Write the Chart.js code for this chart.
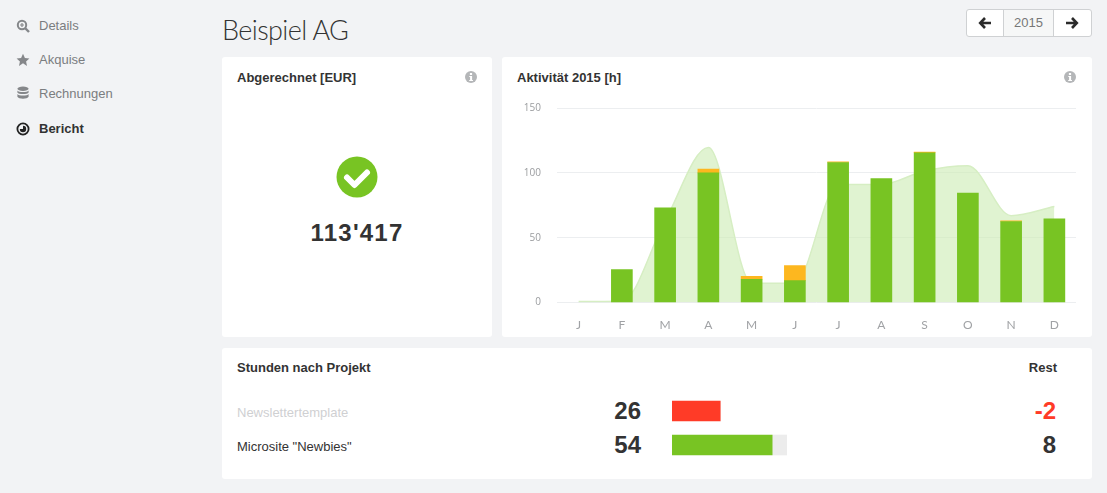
<!DOCTYPE html>
<html lang="de">
<head>
<meta charset="utf-8">
<title>Beispiel AG</title>
<script src="https://cdn.jsdelivr.net/npm/chart.js@4/dist/chart.umd.min.js"></script>
<style>
  * { box-sizing: border-box; }
  html, body { margin: 0; padding: 0; }
  body { width: 1107px; height: 493px; overflow: hidden; position: relative; background: #f2f3f5; font-family: "Liberation Sans", Arial, sans-serif; color: #333; }
  .abs { position: absolute; white-space: nowrap; }
  .nav { left: 39px; font-size: 13px; line-height: 16px; color: #7b7d80; }
  .nav.active { color: #333; font-weight: bold; }
  .nav_icon { position: absolute; left: 16px; width: 14px; height: 14px; }
  .card { position: absolute; background: #fff; border-radius: 3px; }
  .title { font-size: 13px; line-height: 16px; font-weight: bold; color: #333; }
  h1 { position: absolute; margin: 0; left: 222px; top: 13px; font-family: Lato, sans-serif; font-weight: 300; font-size: 27px; line-height: 34px; color: #333; white-space: nowrap; letter-spacing: -0.6px; }
  .year_nav { position: absolute; left: 966px; top: 9px; width: 126px; height: 28px; background: #fff; border: 1px solid #cfd1d3; border-radius: 3px; }
  .year_nav .mid { position: absolute; left: 36px; top: 0; width: 51px; height: 26px; background: #f6f7f7; border-left: 1px solid #cfd1d3; border-right: 1px solid #cfd1d3; text-align: center; font-size: 13px; line-height: 26px; color: #777; }
  .year_nav svg { position: absolute; top: 6px; width: 14px; height: 14px; }
  .num { font-size: 24px; line-height: 28px; font-weight: bold; color: #333; text-align: right; }
  canvas { position: absolute; }
</style>
</head>
<body>
<div class="abs nav" style="top:18px">Details</div>
<div class="abs nav" style="top:52px">Akquise</div>
<div class="abs nav" style="top:86px">Rechnungen</div>
<div class="abs nav active" style="top:121px">Bericht</div>

<svg class="nav_icon" style="top:19px" viewBox="0 0 14 14"><circle cx="6" cy="6" r="4.2" fill="none" stroke="#85878a" stroke-width="2"/><path d="M9 9l4 4" stroke="#85878a" stroke-width="2.4"/><path d="M4 6h4M6 4v4" stroke="#85878a" stroke-width="1.2"/></svg>
<svg class="nav_icon" style="top:53px" viewBox="0 0 14 14"><path d="M7 .8l1.9 4.1 4.5.5-3.3 3.1.9 4.5L7 10.2l-4 2.8.9-4.5L.6 5.4l4.5-.5z" fill="#85878a"/></svg>
<svg class="nav_icon" style="top:86px" viewBox="0 0 14 14"><ellipse cx="7" cy="2.8" rx="5.6" ry="2.2" fill="#85878a"/><path d="M1.4 4.6c1 2 10.200 2 11.200 0v2c-1 2-10.200 2-11.200 0zM1.400 8c1 2 10.200 2 11.200 0v2.800c-1 2.600-10.200 2.600-11.200 0z" fill="#85878a"/></svg>
<svg class="nav_icon" style="top:122px" viewBox="0 0 14 14"><circle cx="7" cy="7" r="5.600" fill="none" stroke="#222" stroke-width="1.800"/><path d="M7 3.800A3.200 3.200 0 1 1 3.800 7H7z" fill="#222"/></svg>

<h1>Beispiel AG</h1>
<div class="year_nav">
  <svg style="left:11px" viewBox="0 0 14 14"><path d="M7 2L2.200 7 7 12M2.500 7H13" fill="none" stroke="#2b2b2b" stroke-width="2.600"/></svg>
  <div class="mid">2015</div>
  <svg style="left:98px" viewBox="0 0 14 14"><path d="M7 2l4.800 5L7 12M11.500 7H1" fill="none" stroke="#2b2b2b" stroke-width="2.600"/></svg>
</div>

<div class="card" style="left:222px;top:57px;width:270px;height:280px"></div>
<div class="card" style="left:502px;top:57px;width:590px;height:280px"></div>
<div class="card" style="left:222px;top:348px;width:870px;height:131px"></div>

<div class="abs title" style="left:237px;top:70px">Abgerechnet [EUR]</div>
<svg class="abs" style="left:465px;top:71px" width="12" height="12" viewBox="0 0 12 12"><circle cx="6" cy="6" r="6" fill="#b4b6b8"/><rect x="4.900" y="2" width="2.200" height="2" fill="#fff"/><path d="M4.300 5h2.800v4h.900v1H4.200V9h.900V6h-.800z" fill="#fff"/></svg>
<svg class="abs" style="left:336px;top:156px" width="42" height="42" viewBox="0 0 42 42"><circle cx="21" cy="21" r="20.500" fill="#78c423"/><path d="M11 21.500l7.500 7.500L31 16.500" fill="none" stroke="#fff" stroke-width="6" stroke-linecap="round" stroke-linejoin="round"/></svg>
<div class="abs num" style="left:222px;width:270px;top:219px;text-align:center;letter-spacing:1.200px;">113'417</div>

<div class="abs title" style="left:517px;top:70px">Aktivität 2015 [h]</div>
<svg class="abs" style="left:1064px;top:71px" width="12" height="12" viewBox="0 0 12 12"><circle cx="6" cy="6" r="6" fill="#b4b6b8"/><rect x="4.900" y="2" width="2.200" height="2" fill="#fff"/><path d="M4.300 5h2.800v4h.900v1H4.200V9h.900V6h-.800z" fill="#fff"/></svg>
<canvas id="activityChart" style="left:510px;top:86px;width:566px;height:245px"></canvas>

<div class="abs title" style="left:237px;top:360px">Stunden nach Projekt</div>
<div class="abs title" style="right:50px;top:360px">Rest</div>
<div id="projectRows"></div>
<canvas id="projectChart" style="left:672px;top:394px;width:115px;height:68px"></canvas>

<script>
// 월별 활동 데이터
const months = ['J', 'F', 'M', 'A', 'M', 'J', 'J', 'A', 'S', 'O', 'N', 'D'];
const billedHours = [null, 25.5, 73, 100, 18, 17, 108, 95.5, 115.500, 84.500, 62.500, 64.500];
const otherHours = [null, null, null, 3, 2.300, 11.500, 0.500, null, 0.500, null, 0.500, null];
const plannedHours = [0.800, 1, 63, 119.500, 15, 15, 91, 91, 101.500, 105.500, 67, 74];
const yTicks = [0, 50, 100, 150];

// 프로젝트별 시간
const projects = ['Newslettertemplate', 'Microsite "Newbies"'];
const projectHours = [26, 54];
const projectRest = [-2, 8];

const green = '#78c423';
const orange = '#fdb71f';
const red = '#ff3b27';

new Chart(document.getElementById('activityChart'), {
  type: 'bar',
  data: {
    labels: months,
    datasets: [
      {data: billedHours, backgroundColor: green, barThickness: 21, stack: 'hours', order: 1},
      {data: otherHours, backgroundColor: orange, barThickness: 21, stack: 'hours', order: 1},
      {
        type: 'line',
        data: plannedHours,
        borderColor: '#d6eec3',
        borderWidth: 1.5,
        backgroundColor: 'rgba(205, 236, 180, 0.62)',
        fill: 'origin',
        pointRadius: 0,
        cubicInterpolationMode: 'monotone',
        order: 2
      }
    ]
  },
  options: {
    responsive: false,
    animation: false,
    layout: {padding: {top: 7}},
    plugins: {legend: {display: false}, tooltip: {enabled: false}},
    scales: {
      x: {
        stacked: true,
        grid: {display: false},
        border: {display: false},
        ticks: {color: '#a0a2a5', font: {family: 'Lato', size: 12}, padding: 7, maxRotation: 0, autoSkip: false},
        afterFit: (scale) => { scale.height = 28.4; }
      },
      y: {
        stacked: true,
        min: 0,
        max: 150,
        afterBuildTicks: (scale) => { scale.ticks = yTicks.map((v) => ({value: v})); },
        grid: {color: '#eceef0', drawTicks: false},
        border: {display: false},
        ticks: {color: '#9a9c9f', font: {family: 'Open Sans', size: 10}, padding: 16},
        afterFit: (scale) => { scale.width = 47; }
      }
    }
  }
});

new Chart(document.getElementById('projectChart'), {
  type: 'bar',
  data: {
    labels: projects,
    datasets: [
      {
        data: projectHours,
        backgroundColor: projectRest.map((r) => r < 0 ? red : green),
        barThickness: 20,
        stack: 'p'
      },
      {
        data: projectRest.map((r) => Math.max(r, 0)),
        backgroundColor: '#ececec',
        barThickness: 20,
        stack: 'p'
      }
    ]
  },
  options: {
    indexAxis: 'y',
    responsive: false,
    animation: false,
    plugins: {legend: {display: false}, tooltip: {enabled: false}},
    scales: {
      x: {stacked: true, display: false, min: 0, max: 62},
      y: {stacked: true, display: false}
    }
  }
});

// 프로젝트 행 텍스트
const rows = document.getElementById('projectRows');
projects.forEach((name, i) => {
  const top = 397 + i * 34;
  const over = projectRest[i] < 0;
  rows.insertAdjacentHTML('beforeend',
    `<div class="abs" style="left:237px;top:${top + 8}px;font-size:13px;line-height:16px;color:${over ? '#cfd0d2' : '#333'}">${name.replace(/"/g, '&quot;')}</div>` +
    `<div class="abs num" style="left:581px;width:60px;top:${top}px">${projectHours[i]}</div>` +
    `<div class="abs num" style="left:996px;width:60px;top:${top}px;color:${over ? red : '#333'}">${projectRest[i]}</div>`);
});
</script>
</body>
</html>
